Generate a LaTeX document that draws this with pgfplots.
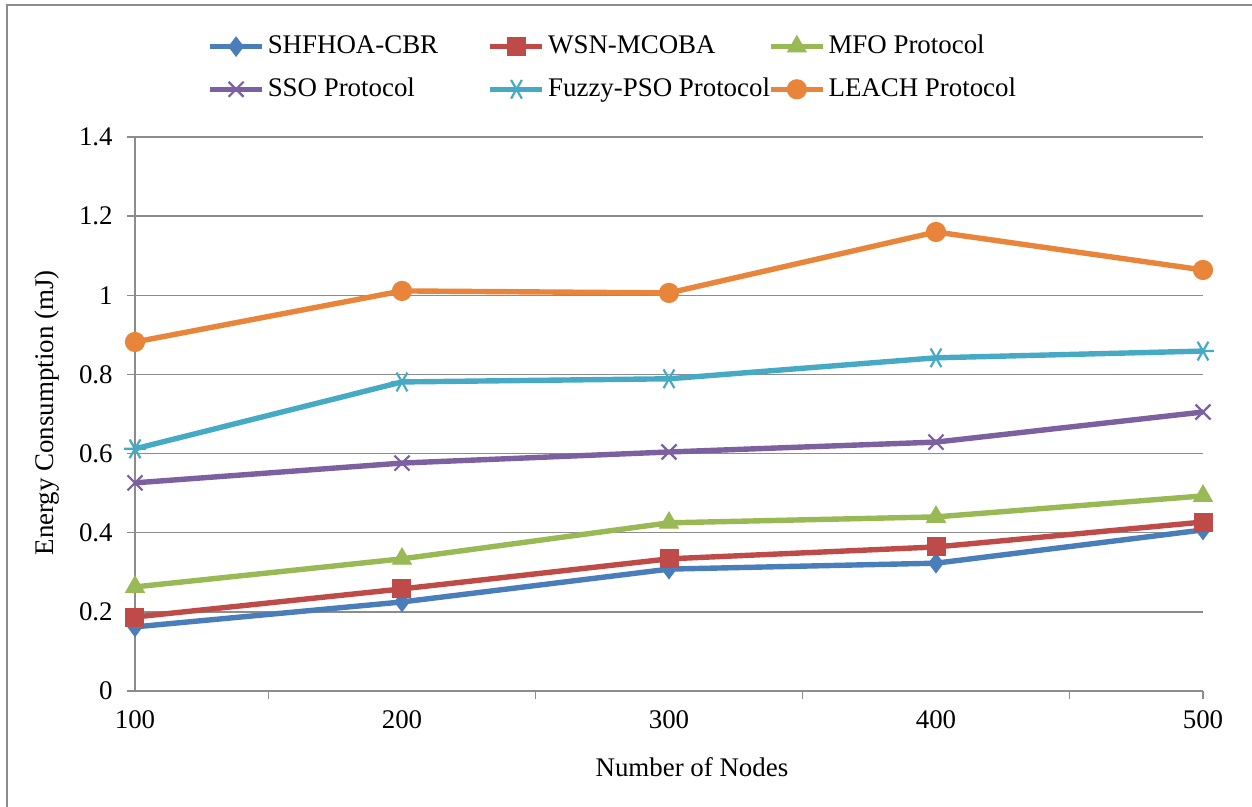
\documentclass[border=0pt]{standalone}
\usepackage{fontspec}
\setmainfont{Liberation Serif}
\usepackage{pgfplots}
\pgfplotsset{compat=1.18}

\definecolor{cBlue}{HTML}{4A7EBB}
\definecolor{cRed}{HTML}{BE4B48}
\definecolor{cGreen}{HTML}{98B954}
\definecolor{cPurple}{HTML}{7D60A0}
\definecolor{cAqua}{HTML}{46AAC5}
\definecolor{cOrange}{HTML}{E8853A}
\definecolor{gridgray}{HTML}{8C8C8C}

\begin{document}
\fontsize{13.5}{16}\selectfont
\begin{tikzpicture}
\useasboundingbox (-67.5bp,-58bp) rectangle (558.5bp,345.5bp);
% outer chart frame (only top and left visible)
\draw[gridgray, line width=0.7bp] (-64bp,-58bp) -- (-64bp,343bp) -- (558.5bp,343bp);
\begin{axis}[
    scale only axis,
    width=534bp, height=277bp,
    at={(0,0)}, anchor=south west,
    xmin=100, xmax=500, ymin=0, ymax=1.4,
    axis x line*=bottom, axis y line*=left,
    axis line style={gridgray, line width=0.75bp},
    ytick={0,0.2,...,1.4},
    xtick={150,250,350,450,500}, xticklabels={},
    extra x ticks={100,200,300,400,500},
    extra x tick labels={100,200,300,400,500},
    extra x tick style={major tick length=0pt},
    tick align=outside, major tick length=4bp,
    tick style={gridgray, line width=0.75bp},
    ymajorgrids, grid style={gridgray, line width=0.75bp},
    /pgf/number format/assume math mode=true,
    tick label style={font=\fontsize{13.5}{16}\selectfont},
    xticklabel style={yshift=-5bp},
    yticklabel style={xshift=-2.5bp},
    label style={font=\fontsize{13.5}{16}\selectfont},
    xlabel={Number of Nodes},
    ylabel={Energy Consumption (mJ)},
    xlabel style={at={(axis description cs:0.5215,-0.137)}, anchor=center},
    ylabel style={at={(axis description cs:-0.0824,0.502)}, anchor=center},
    legend columns=3,
    legend cell align=left,
    legend style={draw=none, fill=none, at={(rel axis cs:0.0618,1.197)}, anchor=north west,
        font=\fontsize{13.5}{16}\selectfont, row sep=7bp, column sep=0pt,
        nodes={inner sep=1.5bp}},
    legend image code/.code={\draw[mark repeat=2,mark phase=2] plot coordinates {(0bp,0bp) (13bp,0bp) (26bp,0bp)};},
    every axis plot/.append style={line width=2.7bp},
    clip=false,
]
\addplot[cBlue, mark=diamond*, mark size=4.8bp, mark options={solid, line width=0.5bp, fill=cBlue}] coordinates {
    (100,0.162) (200,0.225) (300,0.308) (400,0.323) (500,0.407)};
\addlegendentry{\makebox[108.5bp][l]{SHFHOA-CBR}}
\addplot[cRed, mark=square*, mark size=4.5bp, mark options={solid, line width=0.5bp, fill=cRed}] coordinates {
    (100,0.187) (200,0.258) (300,0.334) (400,0.364) (500,0.427)};
\addlegendentry{\makebox[108.5bp][l]{WSN-MCOBA}}
\addplot[cGreen, mark=triangle*, mark size=5.4bp, mark options={solid, line width=0.5bp, fill=cGreen}] coordinates {
    (100,0.263) (200,0.334) (300,0.425) (400,0.440) (500,0.493)};
\addlegendentry{MFO Protocol}
\addplot[cPurple, mark=x, mark size=5.3bp, mark options={solid, line width=1.1bp}] coordinates {
    (100,0.526) (200,0.576) (300,0.604) (400,0.629) (500,0.705)};
\addlegendentry{\makebox[108.5bp][l]{SSO Protocol}}
\addplot[cAqua, mark=asterisk, mark size=5.4bp, mark options={solid, line width=1.1bp, rotate=90}] coordinates {
    (100,0.612) (200,0.781) (300,0.789) (400,0.842) (500,0.859)};
\addlegendentry{\makebox[108.5bp][l]{Fuzzy-PSO Protocol}}
\addplot[cOrange, mark=*, mark size=4.8bp, mark options={solid, line width=0.5bp, fill=cOrange}] coordinates {
    (100,0.882) (200,1.011) (300,1.006) (400,1.160) (500,1.064)};
\addlegendentry{LEACH Protocol}
\end{axis}
\end{tikzpicture}
\end{document}
